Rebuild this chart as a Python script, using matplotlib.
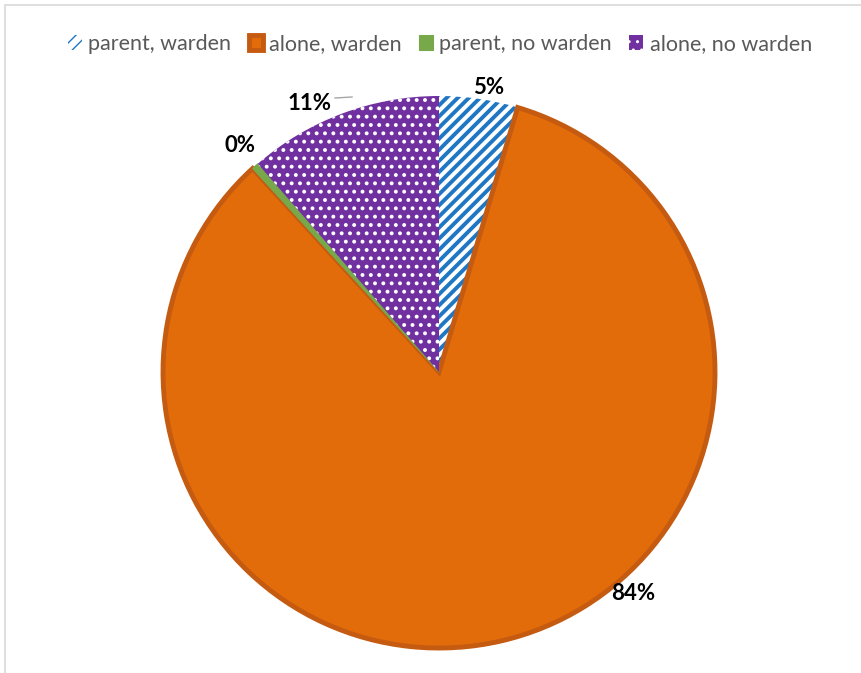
import numpy as np
import matplotlib.pyplot as plt
from matplotlib.patches import Rectangle

labels = ["parent, warden", "alone, warden", "parent, no warden", "alone, no warden"]
shares = [4.6, 83.6, 0.4, 11.4]
pct_text = ["5%", "84%", "0%", "11%"]

face = ["white", "#E36C0A", "#77A84A", "#7030A0"]
edge = ["#1F77C4", "#C55A11", "#77A84A", "white"]
hatch = ["///", None, None, ".."]
hatch_lw = [2.8, 1, 1, 1.6]

W, H = 861, 673
fig = plt.figure(figsize=(W / 100, H / 100), dpi=100)
ax = fig.add_axes([0, 0, 1, 1])

cx, cy, r = 439, H - 372, 276

wedges, _ = ax.pie(shares, startangle=90, counterclock=False, radius=r,
                   center=(cx, cy), explode=[0, 0.035, 0, 0], frame=True)
ax.set_xlim(0, W)
ax.set_ylim(0, H)
ax.set_aspect("equal")
ax.axis("off")

for w, fc, ec, h, hl in zip(wedges, face, edge, hatch, hatch_lw):
    w.set_facecolor(fc)
    w.set_edgecolor(ec)
    if h:
        w.set_hatch(h)
        w.set_linewidth(0)
        if hasattr(w, "set_hatch_linewidth"):
            w.set_hatch_linewidth(hl)
        else:
            w._hatch_linewidth = hl
    else:
        w.set_linewidth(0.8)
wedges[1].set_linewidth(3.5)

# data labels (pixel positions)
label_xy = [(489, 88), (633, 594), (240, 146), (310, 103)]
for t, (x, y) in zip(pct_text, label_xy):
    ax.text(x, H - y, t, ha="center", va="center", fontsize=16,
            fontweight="bold", family="Lato", color="black")
ax.plot([335, 352], [H - 98, H - 97], color="#A6A6A6", lw=1)

leg = fig.legend(wedges, labels, loc="center", bbox_to_anchor=(440 / W, 1 - 44 / H),
                 ncol=4, frameon=False, handlelength=0.65,
                 handleheight=0.65, handletextpad=0.3, columnspacing=0.8,
                 prop={"family": "Lato", "size": 15.5})
for t in leg.get_texts():
    t.set_color("#595959")

fig.add_artist(Rectangle((5 / W, -0.1), 1.2, 1.1 - 5 / H, transform=fig.transFigure,
                         fill=False, edgecolor="#D9D9D9", lw=1.2))

fig.savefig("out.png", dpi=100)
